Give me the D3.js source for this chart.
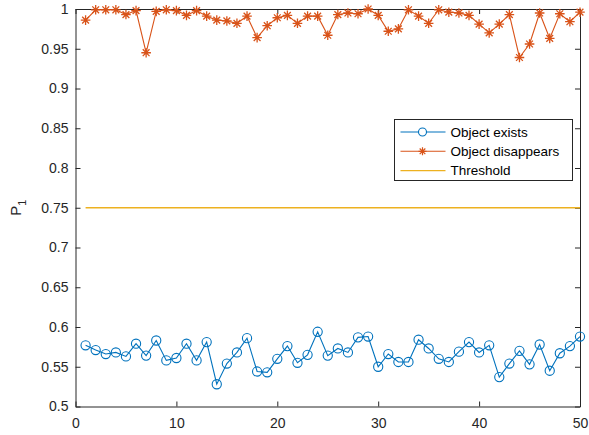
<!DOCTYPE html>
<html>
<head>
<meta charset="utf-8">
<script src="https://cdn.jsdelivr.net/npm/d3@7"></script>
<style>
  body { margin: 0; background: #fff; }
  svg { display: block; font-family: "Liberation Sans", Arial, sans-serif; }
</style>
</head>
<body>
<div id="chart"></div>
<script>
// values
var trials = d3.range(1, 51);
var objectExists = [
  0.577, 0.571, 0.566, 0.568, 0.563, 0.579, 0.564, 0.583, 0.558, 0.561,
  0.579, 0.558, 0.581, 0.528, 0.554, 0.568, 0.586, 0.544, 0.543, 0.560,
  0.576, 0.555, 0.565, 0.594, 0.564, 0.573, 0.568, 0.587, 0.588, 0.550,
  0.566, 0.556, 0.556, 0.584, 0.573, 0.560, 0.556, 0.569, 0.581, 0.568,
  0.577, 0.537, 0.554, 0.570, 0.553, 0.578, 0.545, 0.567, 0.576, 0.588
];
var objectDisappears = [
  0.986, 0.999, 0.999, 0.999, 0.993, 0.998, 0.945, 0.997, 0.999, 0.998,
  0.992, 0.998, 0.991, 0.986, 0.985, 0.982, 0.991, 0.964, 0.979, 0.989,
  0.992, 0.982, 0.991, 0.991, 0.967, 0.993, 0.995, 0.994, 1.000, 0.992,
  0.972, 0.975, 0.999, 0.991, 0.982, 0.999, 0.996, 0.995, 0.992, 0.981,
  0.970, 0.981, 0.993, 0.939, 0.956, 0.995, 0.963, 0.994, 0.984, 0.996
];
var threshold = 0.75;
var xTicks = [0, 10, 20, 30, 40, 50];
var yTicks = [0.5, 0.55, 0.6, 0.65, 0.7, 0.75, 0.8, 0.85, 0.9, 0.95, 1];
var legendLabels = ["Object exists", "Object disappears", "Threshold"];

var W = 589, H = 435;
var padL = 75.5, padR = 580, padT = 9, padB = 406.5;
var axisCol = "#262626";
var blue = "#0072BD", orange = "#D95319", yellow = "#EDB120";

var svg = d3.select("#chart").append("svg").attr("width", W).attr("height", H);

var x = d3.scaleLinear().domain([0, 50]).range([padL, padR]);
var y = d3.scaleLinear().domain([0.5, 1]).range([padB, padT]);
var fmt = function(d) { return String(+d.toFixed(2)); };

// axes with inward ticks (box on)
function styleAxis(g) {
  g.selectAll("path").attr("stroke", axisCol).attr("stroke-width", 1);
  g.selectAll("line").attr("stroke", axisCol).attr("stroke-width", 1);
  g.selectAll("text").attr("fill", axisCol).attr("font-size", 14)
    .attr("font-family", "Liberation Sans, Arial, sans-serif");
}
svg.append("g").attr("transform", "translate(0," + padB + ")")
  .call(d3.axisBottom(x).tickValues(xTicks).tickFormat(fmt).tickSizeInner(-5).tickSizeOuter(0).tickPadding(12))
  .call(styleAxis);
svg.append("g").attr("transform", "translate(" + padL + ",0)")
  .call(d3.axisLeft(y).tickValues(yTicks).tickFormat(fmt).tickSizeInner(-5).tickSizeOuter(0).tickPadding(7))
  .call(styleAxis);
svg.append("g").attr("transform", "translate(0," + padT + ")")
  .call(d3.axisTop(x).tickValues(xTicks).tickFormat("").tickSizeInner(-5).tickSizeOuter(0))
  .call(styleAxis);
svg.append("g").attr("transform", "translate(" + padR + ",0)")
  .call(d3.axisRight(y).tickValues(yTicks).tickFormat("").tickSizeInner(-5).tickSizeOuter(0))
  .call(styleAxis);

// y label P_1
var yl = svg.append("text")
  .attr("transform", "translate(21," + ((padT + padB) / 2) + ") rotate(-90)")
  .attr("text-anchor", "middle").attr("font-size", 15).attr("fill", axisCol);
yl.append("tspan").text("P");
yl.append("tspan").attr("dy", 5).attr("font-size", 11).text("1");

var line = d3.line().x(function(d, i) { return x(trials[i]); }).y(function(d) { return y(d); });

// asterisk marker path
function star(r) {
  var p = "";
  for (var k = 0; k < 4; k++) {
    var a = k * Math.PI / 4;
    p += "M" + (-r * Math.cos(a)) + "," + (-r * Math.sin(a)) + "L" + (r * Math.cos(a)) + "," + (r * Math.sin(a));
  }
  return p;
}

// threshold
svg.append("line")
  .attr("x1", x(trials[0])).attr("x2", x(trials[trials.length - 1]))
  .attr("y1", y(threshold)).attr("y2", y(threshold))
  .attr("stroke", yellow).attr("stroke-width", 1.3);

// object exists
svg.append("path").datum(objectExists).attr("d", line)
  .attr("fill", "none").attr("stroke", blue).attr("stroke-width", 1.1);
svg.selectAll("circle.ex").data(objectExists).enter().append("circle")
  .attr("class", "ex")
  .attr("cx", function(d, i) { return x(trials[i]); })
  .attr("cy", function(d) { return y(d); })
  .attr("r", 4.6).attr("fill", "none").attr("stroke", blue).attr("stroke-width", 1.1);

// object disappears
svg.append("path").datum(objectDisappears).attr("d", line)
  .attr("fill", "none").attr("stroke", orange).attr("stroke-width", 1.1);
svg.selectAll("path.dis").data(objectDisappears).enter().append("path")
  .attr("class", "dis")
  .attr("transform", function(d, i) { return "translate(" + x(trials[i]) + "," + y(d) + ")"; })
  .attr("d", star(4.8)).attr("fill", "none").attr("stroke", orange).attr("stroke-width", 1.3);

// legend
var lg = svg.append("g").attr("transform", "translate(394.5,119.5)");
lg.append("rect").attr("width", 178).attr("height", 61)
  .attr("fill", "#fff").attr("stroke", axisCol).attr("stroke-width", 1);
var colors = [blue, orange, yellow];
legendLabels.forEach(function(lab, i) {
  var cy = 12.5 + i * 19.3;
  lg.append("line").attr("x1", 6).attr("x2", 51).attr("y1", cy).attr("y2", cy)
    .attr("stroke", colors[i]).attr("stroke-width", i == 2 ? 1.3 : 1.1);
  if (i == 0) lg.append("circle").attr("cx", 28).attr("cy", cy).attr("r", 4)
    .attr("fill", "#fff").attr("stroke", blue).attr("stroke-width", 1.1);
  if (i == 1) lg.append("path").attr("transform", "translate(28," + cy + ")")
    .attr("d", star(4)).attr("stroke", orange).attr("stroke-width", 1.2);
  lg.append("text").attr("x", 56).attr("y", cy).attr("dy", "0.35em")
    .attr("font-size", 13.5).attr("fill", "#000").text(lab);
});
</script>
</body>
</html>
